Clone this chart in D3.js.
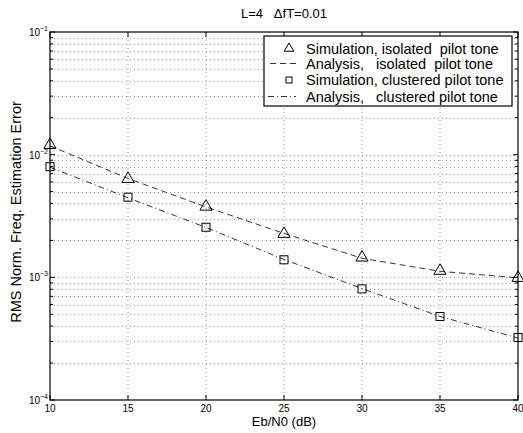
<!DOCTYPE html>
<html>
<head>
<meta charset="utf-8">
<script src="https://cdn.jsdelivr.net/npm/d3@7"></script>
<style>
  body { margin: 0; background: #fff; }
  svg { font-family: "Liberation Sans", Arial, Helvetica, sans-serif; }
</style>
</head>
<body>
<script>
//Data
var ebn0 = [10, 15, 20, 25, 30, 35, 40];
var simIsolated = [0.0120, 0.00634, 0.00377, 0.00226, 0.00145, 0.00113, 0.00099];
var anaIsolated = [0.0118, 0.00640, 0.00375, 0.00228, 0.00143, 0.00112, 0.00099];
var simClustered = [0.00798, 0.00450, 0.00256, 0.00139, 0.000805, 0.000479, 0.000323];
var anaClustered = [0.00790, 0.00445, 0.00255, 0.00140, 0.000810, 0.000480, 0.000320];
var xTicks = [10, 15, 20, 25, 30, 35, 40];
var yDecades = [-4, -3, -2, -1];
var legendLabels = [
  "Simulation, isolated\u00a0 pilot tone",
  "Analysis,\u00a0\u00a0 isolated\u00a0 pilot tone",
  "Simulation, clustered pilot tone",
  "Analysis,\u00a0\u00a0 clustered pilot tone"
];

//Width and height
var w = 523;
var h = 433;
var margin = { left: 50, right: 5, top: 32, bottom: 33 };
var pw = w - margin.left - margin.right;
var ph = h - margin.top - margin.bottom;

var svg = d3.select("body").append("svg").attr("width", w).attr("height", h);
var g = svg.append("g").attr("transform", "translate(" + margin.left + "," + margin.top + ")");

var xScale = d3.scaleLinear().domain([10, 40]).range([0, pw]);
var yScale = d3.scaleLog().domain([1e-4, 1e-1]).range([ph, 0]);

//Minor y values
var yMinor = [];
yDecades.slice(0, 3).forEach(function (d) {
  for (var k = 2; k <= 9; k++) yMinor.push(k * Math.pow(10, d));
});
var yMajor = yDecades.map(function (d) { return Math.pow(10, d); });

//Grid
var grid = g.append("g").attr("stroke", "#555").attr("stroke-width", 0.6)
  .attr("stroke-dasharray", "1,3");
grid.selectAll(".gx").data(xTicks.slice(1, -1)).enter().append("line")
  .attr("x1", function (d) { return xScale(d); })
  .attr("x2", function (d) { return xScale(d); })
  .attr("y1", 0).attr("y2", ph);
grid.selectAll(".gy").data(yMinor.concat(yMajor.slice(1, 3))).enter().append("line")
  .attr("x1", 0).attr("x2", pw)
  .attr("y1", function (d) { return Math.round(yScale(d)) + 0.5; })
  .attr("y2", function (d) { return Math.round(yScale(d)) + 0.5; });

//Ticks
var ticks = g.append("g").attr("stroke", "#000").attr("stroke-width", 1);
xTicks.forEach(function (d) {
  var x = xScale(d);
  ticks.append("line").attr("x1", x).attr("x2", x).attr("y1", ph).attr("y2", ph - 5);
  ticks.append("line").attr("x1", x).attr("x2", x).attr("y1", 0).attr("y2", 5);
});
yMajor.forEach(function (d) {
  var y = yScale(d);
  ticks.append("line").attr("x1", 0).attr("x2", 5).attr("y1", y).attr("y2", y);
  ticks.append("line").attr("x1", pw).attr("x2", pw - 5).attr("y1", y).attr("y2", y);
});
yMinor.forEach(function (d) {
  var y = yScale(d);
  ticks.append("line").attr("x1", 0).attr("x2", 3).attr("y1", y).attr("y2", y);
  ticks.append("line").attr("x1", pw).attr("x2", pw - 3).attr("y1", y).attr("y2", y);
});

//Tick labels
g.selectAll(".xl").data(xTicks).enter().append("text")
  .attr("x", function (d) { return xScale(d); })
  .attr("y", ph + 12)
  .attr("text-anchor", "middle")
  .attr("font-size", "10px")
  .text(function (d) { return d; });

var yl = g.selectAll(".yl").data(yDecades).enter().append("text")
  .attr("x", -2)
  .attr("y", function (d) { return yScale(Math.pow(10, d)) + 4; })
  .attr("text-anchor", "end")
  .attr("font-size", "10px");
yl.append("tspan").text("10");
yl.append("tspan").attr("dy", -5).attr("font-size", "7px").text(function (d) { return "\u2212" + (-d); });

//Lines
var line = d3.line()
  .x(function (d, i) { return xScale(ebn0[i]); })
  .y(function (d) { return yScale(d); });

g.append("path").datum(anaIsolated).attr("d", line)
  .attr("fill", "none").attr("stroke", "#000").attr("stroke-width", 0.8)
  .attr("stroke-dasharray", "6,4");
g.append("path").datum(anaClustered).attr("d", line)
  .attr("fill", "none").attr("stroke", "#000").attr("stroke-width", 0.8)
  .attr("stroke-dasharray", "6,3,1,3");

//Markers
var tri = d3.symbol().type(d3.symbolTriangle).size(64);
g.selectAll(".tri").data(simIsolated).enter().append("path")
  .attr("d", tri)
  .attr("transform", function (d, i) { return "translate(" + xScale(ebn0[i]) + "," + yScale(d) + ")"; })
  .attr("fill", "none").attr("stroke", "#000").attr("stroke-width", 1);
g.selectAll(".sq").data(simClustered).enter().append("rect")
  .attr("x", function (d, i) { return xScale(ebn0[i]) - 4; })
  .attr("y", function (d) { return yScale(d) - 4; })
  .attr("width", 8).attr("height", 8)
  .attr("fill", "none").attr("stroke", "#000").attr("stroke-width", 1);

//Box
g.append("rect").attr("x", 0).attr("y", 0).attr("width", pw).attr("height", ph)
  .attr("fill", "none").attr("stroke", "#000").attr("stroke-width", 1.2);

//Legend
var lg = svg.append("g").attr("transform", "translate(264,36)");
lg.append("rect").attr("width", 248).attr("height", 70)
  .attr("fill", "#fff").attr("stroke", "#000").attr("stroke-width", 1.2);
var rowY = [12.5, 27.5, 44, 60.5];
lg.selectAll("text").data(legendLabels).enter().append("text")
  .attr("x", 42)
  .attr("y", function (d, i) { return rowY[i] + 5; })
  .attr("font-size", "14.5px")
  .text(function (d) { return d; });
var triLg = d3.symbol().type(d3.symbolTriangle).size(40);
lg.append("path").attr("d", triLg)
  .attr("transform", "translate(25," + rowY[0] + ")")
  .attr("fill", "none").attr("stroke", "#000").attr("stroke-width", 1);
lg.append("line").attr("x1", 6).attr("x2", 32).attr("y1", rowY[1]).attr("y2", rowY[1])
  .attr("stroke", "#000").attr("stroke-width", 0.8).attr("stroke-dasharray", "6,4");
lg.append("rect").attr("x", 22).attr("y", rowY[2] - 3).attr("width", 6).attr("height", 6)
  .attr("fill", "none").attr("stroke", "#000").attr("stroke-width", 1);
lg.append("line").attr("x1", 4).attr("x2", 32).attr("y1", rowY[3]).attr("y2", rowY[3])
  .attr("stroke", "#000").attr("stroke-width", 0.8).attr("stroke-dasharray", "6,3,1,3");

//Title and axis labels
svg.append("text").attr("x", margin.left + pw / 2).attr("y", 18)
  .attr("text-anchor", "middle").attr("font-size", "13px")
  .text("L=4\u00a0\u00a0\u00a0\u0394fT=0.01");
svg.append("text").attr("x", margin.left + pw / 2).attr("y", 426)
  .attr("text-anchor", "middle").attr("font-size", "13px")
  .text("Eb/N0 (dB)");
svg.append("text")
  .attr("transform", "translate(21,212) rotate(-90)")
  .attr("text-anchor", "middle").attr("font-size", "14.5px")
  .text("RMS Norm. Freq. Estimation Error");
</script>
</body>
</html>
